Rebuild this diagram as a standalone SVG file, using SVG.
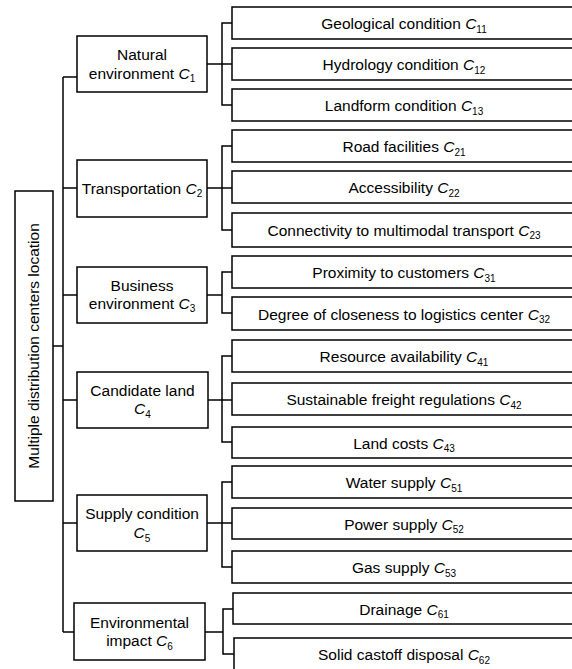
<svg xmlns="http://www.w3.org/2000/svg" width="572" height="669" viewBox="0 0 572 669">
<style>
rect{fill:#fff;stroke:#000;stroke-width:1.5}
.c line,.c polyline{stroke:#000;stroke-width:1.5;fill:none}
text{font-family:"Liberation Sans",Arial,sans-serif;font-size:15.5px;fill:#000;text-anchor:middle}
.i{font-style:italic}
.s{font-size:10px}
</style>
<rect x="0" y="0" width="572" height="669" style="stroke:none"/>
<g class="c" id="connectors">
<line x1="53" y1="346" x2="63" y2="346"/>
<line x1="63" y1="77" x2="63" y2="632"/>
<line x1="63" y1="77" x2="77" y2="77"/>
<line x1="63" y1="188" x2="77" y2="188"/>
<line x1="63" y1="295" x2="77" y2="295"/>
<line x1="63" y1="400" x2="77" y2="400"/>
<line x1="63" y1="523" x2="77" y2="523"/>
<line x1="63" y1="632" x2="74" y2="632"/>
<line x1="207" y1="64" x2="232" y2="64"/>
<polyline points="232,23 222,23 222,105 232,105"/>
<line x1="207" y1="188" x2="232" y2="188"/>
<polyline points="232,146 222,146 222,230 232,230"/>
<line x1="207" y1="295" x2="222" y2="295"/>
<polyline points="232,272 222,272 222,313 232,313"/>
<line x1="208" y1="400" x2="232" y2="400"/>
<polyline points="232,356 222,356 222,442 232,442"/>
<line x1="207" y1="523" x2="232" y2="523"/>
<polyline points="232,482 222,482 222,567 232,567"/>
<line x1="205" y1="632" x2="223" y2="632"/>
<polyline points="233,609 223,609 223,654 234,654"/>
</g>
<g id="root">
<rect x="15" y="191" width="38" height="310"/>
<text transform="translate(38.5,346) rotate(-90)">Multiple distribution centers location</text>
</g>
<g id="c1"><rect x="77" y="36" width="130" height="56"/>
<text x="142" y="60">Natural</text><text x="142" y="78.5">environment <tspan class="i">C</tspan><tspan class="s" dy="3.5">1</tspan></text></g>
<g id="c2"><rect x="77" y="160" width="130" height="57"/>
<text x="142" y="193.5">Transportation <tspan class="i">C</tspan><tspan class="s" dy="3.5">2</tspan></text></g>
<g id="c3"><rect x="77" y="267" width="130" height="56"/>
<text x="142" y="290.5">Business</text><text x="142" y="308.5">environment <tspan class="i">C</tspan><tspan class="s" dy="3.5">3</tspan></text></g>
<g id="c4"><rect x="77" y="372" width="131" height="56"/>
<text x="142.5" y="395.5">Candidate land</text><text x="142.5" y="414"><tspan class="i">C</tspan><tspan class="s" dy="3.5">4</tspan></text></g>
<g id="c5"><rect x="77" y="495" width="130" height="56"/>
<text x="142" y="519">Supply condition</text><text x="142" y="538"><tspan class="i">C</tspan><tspan class="s" dy="3.5">5</tspan></text></g>
<g id="c6"><rect x="74" y="603" width="131" height="57"/>
<text x="139.5" y="628">Environmental</text><text x="139.5" y="646">impact <tspan class="i">C</tspan><tspan class="s" dy="3.5">6</tspan></text></g>
<g id="c11"><rect x="232" y="7" width="348" height="32"/><text x="404" y="29">Geological condition <tspan class="i">C</tspan><tspan class="s" dy="3.5">11</tspan></text></g>
<g id="c12"><rect x="232" y="48" width="348" height="32"/><text x="404" y="70">Hydrology condition <tspan class="i">C</tspan><tspan class="s" dy="3.5">12</tspan></text></g>
<g id="c13"><rect x="232" y="89" width="348" height="32"/><text x="404" y="111">Landform condition <tspan class="i">C</tspan><tspan class="s" dy="3.5">13</tspan></text></g>
<g id="c21"><rect x="232" y="130" width="348" height="32"/><text x="404" y="152">Road facilities <tspan class="i">C</tspan><tspan class="s" dy="3.5">21</tspan></text></g>
<g id="c22"><rect x="232" y="171" width="348" height="32"/><text x="404" y="193">Accessibility <tspan class="i">C</tspan><tspan class="s" dy="3.5">22</tspan></text></g>
<g id="c23"><rect x="232" y="213" width="348" height="34"/><text x="404" y="235.5">Connectivity to multimodal transport <tspan class="i">C</tspan><tspan class="s" dy="3.5">23</tspan></text></g>
<g id="c31"><rect x="232" y="256" width="348" height="32"/><text x="404" y="278">Proximity to customers <tspan class="i">C</tspan><tspan class="s" dy="3.5">31</tspan></text></g>
<g id="c32"><rect x="232" y="297" width="348" height="33"/><text x="404" y="319.5">Degree of closeness to logistics center <tspan class="i">C</tspan><tspan class="s" dy="3.5">32</tspan></text></g>
<g id="c41"><rect x="232" y="340" width="348" height="32"/><text x="404" y="362">Resource availability <tspan class="i">C</tspan><tspan class="s" dy="3.5">41</tspan></text></g>
<g id="c42"><rect x="232" y="383" width="348" height="32"/><text x="404" y="405">Sustainable freight regulations <tspan class="i">C</tspan><tspan class="s" dy="3.5">42</tspan></text></g>
<g id="c43"><rect x="232" y="427" width="348" height="31"/><text x="404" y="448.5">Land costs <tspan class="i">C</tspan><tspan class="s" dy="3.5">43</tspan></text></g>
<g id="c51"><rect x="232" y="466" width="348" height="32"/><text x="404" y="488">Water supply <tspan class="i">C</tspan><tspan class="s" dy="3.5">51</tspan></text></g>
<g id="c52"><rect x="232" y="508" width="348" height="31"/><text x="404" y="529.5">Power supply <tspan class="i">C</tspan><tspan class="s" dy="3.5">52</tspan></text></g>
<g id="c53"><rect x="232" y="551" width="348" height="32"/><text x="404" y="573">Gas supply <tspan class="i">C</tspan><tspan class="s" dy="3.5">53</tspan></text></g>
<g id="c61"><rect x="233" y="593" width="347" height="31"/><text x="404" y="614.5">Drainage <tspan class="i">C</tspan><tspan class="s" dy="3.5">61</tspan></text></g>
<g id="c62"><rect x="234" y="638" width="346" height="40"/><text x="404" y="660">Solid castoff disposal <tspan class="i">C</tspan><tspan class="s" dy="3.5">62</tspan></text></g>
</svg>
